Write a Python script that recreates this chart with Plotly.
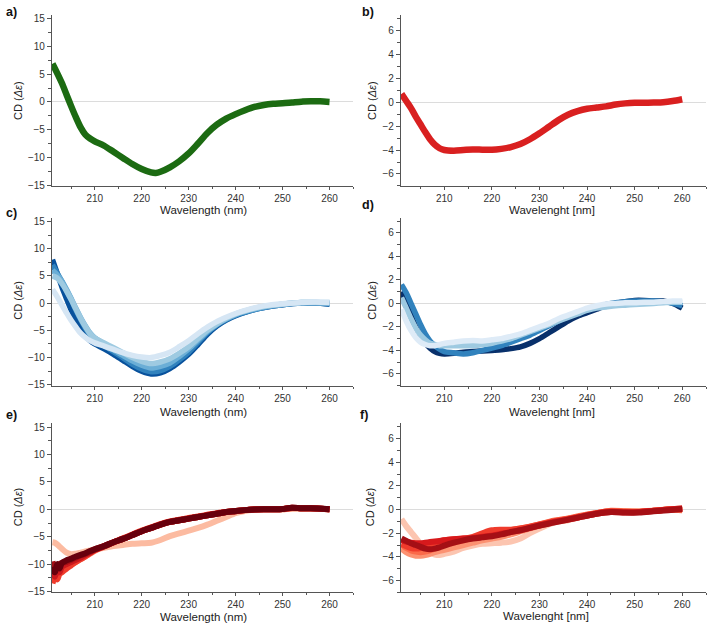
import plotly.graph_objects as go

# ---------------- data ----------------
a_wl = [201, 202, 203, 204, 205, 206, 207, 208, 209, 210, 212, 214, 216, 218, 220, 222, 223, 224, 226, 228,
        230, 232, 234, 236, 238, 240, 242, 244, 246, 248, 250, 252, 254, 256, 258, 260]
a_cd = [6.9, 5.2, 3.4, 1.3, -0.8, -2.8, -4.6, -5.9, -6.6, -7.1, -7.9, -9.0, -10.1, -11.2, -12.1, -12.7, -12.8, -12.6,
        -11.8, -10.7, -9.3, -7.5, -5.6, -4.1, -3.0, -2.2, -1.5, -0.9, -0.55, -0.35, -0.25, -0.1, 0.05, 0.1, 0.1, 0.0]

b_wl = [201, 202, 203, 204, 205, 206, 207, 208, 209, 210, 212, 214, 216, 218, 220, 222, 224, 226, 228, 230,
        232, 234, 236, 238, 240, 242, 244, 246, 248, 250, 252, 254, 256, 258, 260]
b_cd = [0.7, 0.1, -0.5, -1.2, -1.85, -2.5, -3.1, -3.55, -3.85, -4.0, -4.05, -4.0, -3.95, -3.97, -3.98, -3.9, -3.75,
        -3.5, -3.1, -2.6, -2.05, -1.5, -1.05, -0.75, -0.55, -0.45, -0.35, -0.2, -0.1, -0.05, -0.05, -0.03, 0.0, 0.1, 0.25]

c_wl = [201, 202, 203, 204, 205, 206, 207, 208, 209, 210, 212, 214, 216, 218, 220, 222, 224, 226, 228, 230,
        232, 234, 236, 238, 240, 243, 246, 250, 254, 257, 260]
c_cd1 = [8.0, 5.5, 3.0, 0.8, -1.3, -3.2, -4.8, -6.0, -6.9, -7.5, -8.4, -9.4, -10.5, -11.6, -12.5, -13.0, -12.8, -12.0,
         -10.8, -9.4, -7.6, -5.7, -4.2, -3.1, -2.3, -1.4, -0.8, -0.3, 0.0, 0.0, -0.2]
c_cd2 = [7.0, 5.5, 4.0, 2.3, 0.6, -1.3, -3.0, -4.6, -5.8, -6.7, -7.8, -8.9, -10.0, -11.2, -12.1, -12.6, -12.4, -11.6,
         -10.4, -9.0, -7.2, -5.4, -4.0, -3.0, -2.2, -1.4, -0.8, -0.3, 0.0, 0.0, -0.1]
c_cd3 = [6.0, 5.2, 4.0, 2.5, 0.8, -1.0, -2.7, -4.2, -5.5, -6.4, -7.5, -8.6, -9.6, -10.6, -11.4, -11.9, -11.6, -11.0,
         -9.8, -8.4, -6.8, -5.2, -3.9, -2.9, -2.1, -1.3, -0.7, -0.2, 0.1, 0.1, 0.0]
c_cd4 = [5.0, 4.6, 3.6, 2.2, 0.6, -1.1, -2.8, -4.3, -5.6, -6.4, -7.3, -8.2, -9.1, -10.0, -10.7, -11.1, -10.8, -10.2,
         -9.2, -8.0, -6.5, -5.0, -3.8, -2.8, -2.0, -1.2, -0.6, -0.2, 0.1, 0.1, 0.1]
c_cd5 = [2.5, 1.2, -0.3, -1.8, -3.2, -4.4, -5.5, -6.3, -6.9, -7.3, -7.9, -8.5, -9.1, -9.6, -9.9, -10.0, -9.6, -9.0,
         -8.0, -6.9, -5.6, -4.4, -3.4, -2.6, -1.9, -1.1, -0.5, -0.1, 0.1, 0.2, 0.1]

d_wl = [201, 202, 203, 204, 205, 206, 207, 208, 209, 210, 212, 214, 216, 218, 220, 222, 224, 226, 228, 230,
        232, 234, 236, 238, 240, 242, 244, 246, 248, 250, 252, 254, 256, 258, 260]
d_cd1 = [1.0, 0.0, -1.0, -2.0, -2.8, -3.4, -3.8, -4.1, -4.25, -4.3, -4.25, -4.15, -4.1, -4.05, -4.0, -3.95, -3.85,
         -3.7, -3.4, -3.0, -2.5, -2.0, -1.5, -1.1, -0.8, -0.5, -0.2, 0.0, 0.15, 0.25, 0.25, 0.2, 0.2, 0.0, -0.4]
d_cd2 = [1.6, 0.9, 0.0, -0.9, -1.8, -2.6, -3.2, -3.6, -3.9, -4.1, -4.2, -4.3, -4.2, -4.0, -3.8, -3.6, -3.3, -3.0,
         -2.7, -2.3, -1.9, -1.5, -1.1, -0.8, -0.5, -0.3, -0.1, 0.05, 0.15, 0.2, 0.2, 0.2, 0.15, 0.0, -0.2]
d_cd3 = [0.5, -0.4, -1.3, -2.1, -2.7, -3.1, -3.4, -3.5, -3.6, -3.6, -3.6, -3.6, -3.6, -3.5, -3.4, -3.2, -3.0, -2.7,
         -2.4, -2.1, -1.8, -1.5, -1.2, -0.9, -0.6, -0.4, -0.3, -0.2, -0.15, -0.1, -0.05, 0.0, 0.05, 0.1, 0.1]
d_cd4 = [-0.5, -1.5, -2.3, -2.9, -3.3, -3.5, -3.6, -3.6, -3.5, -3.4, -3.3, -3.2, -3.15, -3.2, -3.1, -3.0, -2.8, -2.6,
         -2.3, -2.0, -1.7, -1.3, -1.0, -0.7, -0.4, -0.2, -0.05, 0.0, 0.05, 0.05, 0.1, 0.1, 0.15, 0.2, 0.2]

e_wl = [201, 201.5, 202, 202.5, 203, 204, 205, 206, 207, 208, 209, 210, 212, 214, 216, 218, 220, 222, 224, 226,
        228, 230, 232, 234, 236, 238, 240, 242, 244, 246, 248, 250, 252, 254, 256, 258, 260]
e_cd1 = [-6.0, -6.1, -6.4, -6.8, -7.2, -7.9, -8.2, -8.1, -7.9, -7.7, -7.5, -7.3, -7.0, -6.7, -6.5, -6.3, -6.2, -6.1,
         -5.6, -4.9, -4.4, -3.9, -3.4, -2.8, -2.1, -1.4, -0.7, -0.3, -0.1, 0.0, 0.0, 0.0, 0.1, 0.1, 0.1, 0.1, 0.0]
e_cd2 = [-12.0, -11.3, -11.6, -11.0, -10.9, -10.4, -10.0, -9.6, -9.1, -8.6, -8.1, -7.6, -6.8, -6.1, -5.4, -4.7, -4.0,
         -3.4, -2.8, -2.3, -2.0, -1.7, -1.4, -1.1, -0.8, -0.5, -0.3, -0.15, -0.05, 0.0, 0.0, 0.0, 0.2, 0.15, 0.15, 0.1, 0.0]
e_cd3 = [-13.5, -12.5, -12.8, -11.8, -11.5, -10.8, -10.2, -9.6, -9.1, -8.6, -8.0, -7.5, -6.7, -6.0, -5.3, -4.6, -3.9,
         -3.3, -2.7, -2.2, -1.9, -1.6, -1.3, -1.0, -0.7, -0.5, -0.3, -0.15, 0.0, 0.0, 0.0, 0.05, 0.25, 0.2, 0.2, 0.1, 0.0]
e_cd4 = [-11.5, -12.3, -11.0, -11.5, -10.5, -10.0, -9.6, -9.2, -8.8, -8.3, -7.9, -7.4, -6.8, -6.0, -5.4, -4.7, -4.0,
         -3.4, -2.8, -2.3, -2.0, -1.7, -1.4, -1.1, -0.8, -0.5, -0.35, -0.15, -0.05, 0.0, 0.0, 0.05, 0.3, 0.2, 0.2, 0.1, 0.0]
e_cd5 = [-9.5, -11.0, -10.2, -10.0, -9.8, -9.6, -9.2, -8.8, -8.4, -8.1, -7.7, -7.3, -6.7, -6.0, -5.4, -4.7, -4.0,
         -3.4, -2.8, -2.3, -2.0, -1.7, -1.4, -1.1, -0.8, -0.5, -0.35, -0.15, -0.05, 0.0, 0.0, 0.05, 0.3, 0.2, 0.2, 0.1, 0.0]
e_cd6 = [-10.5, -11.5, -10.0, -10.8, -9.8, -9.3, -9.0, -8.6, -8.3, -8.0, -7.6, -7.3, -6.7, -6.0, -5.4, -4.7, -4.0,
         -3.4, -2.8, -2.3, -2.0, -1.7, -1.4, -1.1, -0.8, -0.5, -0.3, -0.15, -0.05, 0.0, 0.0, 0.05, 0.3, 0.2, 0.2, 0.15, 0.0]

f_wl = [201, 202, 203, 204, 205, 206, 207, 208, 209, 210, 212, 214, 216, 218, 220, 222, 224, 226, 228, 230,
        233, 236, 239, 242, 245, 248, 251, 254, 257, 260]
f_cd1 = [-0.8, -1.4, -1.9, -2.4, -2.9, -3.3, -3.6, -3.8, -3.85, -3.75, -3.55, -3.25, -3.05, -2.9, -2.85, -2.8, -2.7,
         -2.45, -2.0, -1.6, -1.1, -0.9, -0.6, -0.35, -0.2, -0.2, -0.15, -0.1, 0.0, 0.0]
f_cd2 = [-3.3, -3.6, -3.8, -3.9, -3.9, -3.85, -3.75, -3.6, -3.5, -3.4, -3.2, -3.0, -2.8, -2.6, -2.45, -2.3, -2.1,
         -1.85, -1.6, -1.35, -1.0, -0.8, -0.55, -0.3, -0.15, -0.15, -0.15, -0.1, 0.0, 0.0]
f_cd3 = [-3.0, -3.25, -3.45, -3.55, -3.6, -3.55, -3.45, -3.3, -3.15, -3.0, -2.8, -2.6, -2.4, -2.1, -1.9, -1.8, -1.75,
         -1.6, -1.45, -1.25, -0.95, -0.75, -0.5, -0.3, -0.1, -0.15, -0.2, -0.1, 0.0, -0.05]
f_cd4 = [-2.9, -3.1, -3.25, -3.3, -3.25, -3.1, -2.95, -2.8, -2.7, -2.6, -2.5, -2.45, -2.3, -2.0, -1.75, -1.7, -1.7,
         -1.6, -1.45, -1.25, -1.0, -0.8, -0.55, -0.3, -0.15, -0.2, -0.2, -0.1, 0.0, 0.1]
f_cd5 = [-2.6, -2.7, -2.8, -2.85, -2.85, -2.8, -2.75, -2.7, -2.65, -2.6, -2.5, -2.45, -2.4, -2.3, -2.2, -2.05, -1.9,
         -1.75, -1.55, -1.35, -1.05, -0.85, -0.6, -0.35, -0.2, -0.25, -0.2, -0.1, 0.0, 0.1]
f_cd6 = [-2.45, -2.65, -2.85, -3.0, -3.15, -3.3, -3.35, -3.3, -3.2, -3.05, -2.8, -2.6, -2.45, -2.35, -2.25, -2.1, -1.9,
         -1.75, -1.55, -1.35, -1.1, -0.85, -0.6, -0.35, -0.2, -0.25, -0.25, -0.15, -0.05, 0.05]

panel_labels = ["a)", "b)", "c)", "d)", "e)", "f)"]
xtitle_left = "Wavelength (nm)"
xtitle_right = "Wavelenght [nm]"
ytitle = "CD (<i>Δε</i>)"

# ---------------- style ----------------
FONT = "Liberation Sans, Arial, sans-serif"
AXC = "#555555"
TXT = "#333333"

blues_c = ["#08519c", "#3182bd", "#6baed6", "#9ecae1", "#d6e6f4"]
blues_d = ["#08306b", "#3182bd", "#9ecae1", "#deebf7"]
reds_e = ["#fcbba1", "#fc9272", "#ef3b2c", "#cb181d", "#a50f15", "#67000d"]
reds_f = ["#fcc5b0", "#fc9272", "#fb6a4a", "#ef3b2c", "#d7191c", "#a50f15"]

W, H = 708, 628
xl = [52 / W, 353 / W]
xr = [401 / W, 706 / W]
rows = [[1 - 186 / H, 1 - 13 / H], [1 - 388 / H, 1 - 218 / H], [1 - 597 / H, 1 - 426 / H]]

fig = go.Figure()


def add(ax, x, y, color, width):
    fig.add_trace(go.Scatter(x=x, y=y, mode="lines", xaxis="x" + ax, yaxis="y" + ax,
                             line=dict(color=color, width=width, shape="spline", smoothing=0.8),
                             showlegend=False, hoverinfo="skip"))


add("", a_wl, a_cd, "#1c6b12", 6.5)
add("2", b_wl, b_cd, "#d92020", 6.5)
for col, y in zip(blues_c, [c_cd1, c_cd2, c_cd3, c_cd4, c_cd5]):
    add("3", c_wl, y, col, 5.5)
for col, y in zip(blues_d, [d_cd1, d_cd2, d_cd3, d_cd4]):
    add("4", d_wl, y, col, 5.5)
for col, y in zip(reds_e, [e_cd1, e_cd2, e_cd3, e_cd4, e_cd5, e_cd6]):
    add("5", e_wl, y, col, 6)
for col, y in zip(reds_f, [f_cd1, f_cd2, f_cd3, f_cd4, f_cd5, f_cd6]):
    add("6", f_wl, y, col, 6)


def xaxis(dom, anchor):
    return dict(domain=dom, anchor=anchor, range=[200.9, 265], showgrid=False, zeroline=False,
                showline=True, linecolor=AXC, linewidth=1.2, ticks="outside", ticklen=3, tickwidth=1,
                tickcolor=AXC, tickvals=[210, 220, 230, 240, 250, 260],
                minor=dict(ticks="outside", ticklen=2, tickcolor=AXC, tickvals=[205, 215, 225, 235, 245, 255, 265]),
                tickfont=dict(family=FONT, size=10, color=TXT))


def yaxis(dom, anchor, left):
    if left:
        rng, dt, mdt = [-15.15, 15.7], 5, 2.5
    else:
        rng, dt, mdt = [-7.0, 7.3], 2, 1
    return dict(domain=dom, anchor=anchor, range=rng, showgrid=False, zeroline=True,
                zerolinecolor="#dcdcdc", zerolinewidth=1, showline=True, linecolor=AXC, linewidth=1.2,
                ticks="outside", ticklen=4, tickwidth=1, tickcolor=AXC, dtick=dt, tick0=0,
                minor=dict(ticks="outside", ticklen=2.5, tickcolor=AXC, dtick=mdt, tick0=0),
                tickfont=dict(family=FONT, size=10, color=TXT))


axes = {}
specs = [("", xl, rows[0], True), ("2", xr, rows[0], False),
         ("3", xl, rows[1], True), ("4", xr, rows[1], False),
         ("5", xl, rows[2], True), ("6", xr, rows[2], False)]
for ax, xd, yd, left in specs:
    axes["xaxis" + ax] = xaxis(xd, "y" + ax)
    axes["yaxis" + ax] = yaxis(yd, "x" + ax, left)

annotations = []
# panel labels
label_pos = [(4, 10), (360, 10), (4, 213), (360, 205), (4, 418), (358, 418)]
for t, (px, py) in zip(panel_labels, label_pos):
    annotations.append(dict(text="<b>" + t + "</b>", x=px / W, y=1 - py / H, xref="paper", yref="paper",
                            xanchor="left", yanchor="middle", showarrow=False,
                            font=dict(family=FONT, size=12.5, color="#111111")))
# x titles
xt_pos = [(203, 210), (552, 210), (203, 415), (552, 415), (203, 622), (546, 621)]
for i, (px, py) in enumerate(xt_pos):
    annotations.append(dict(text=xtitle_left if i % 2 == 0 else xtitle_right, x=px / W, y=1 - py / H,
                            xref="paper", yref="paper", xanchor="center", yanchor="middle", showarrow=False,
                            font=dict(family=FONT, size=11.5, color="#222222")))
# y titles
yt_pos = [(18, 100), (372, 100), (18, 302), (372, 302), (18, 511), (370, 511)]
for px, py in yt_pos:
    annotations.append(dict(text=ytitle, x=px / W, y=1 - py / H, xref="paper", yref="paper",
                            xanchor="center", yanchor="middle", textangle=-90, showarrow=False,
                            font=dict(family=FONT, size=11, color="#222222")))

fig.update_layout(width=W, height=H, margin=dict(l=0, r=0, t=0, b=0),
                  paper_bgcolor="white", plot_bgcolor="white", annotations=annotations, **axes)

fig.write_html("out.html")
